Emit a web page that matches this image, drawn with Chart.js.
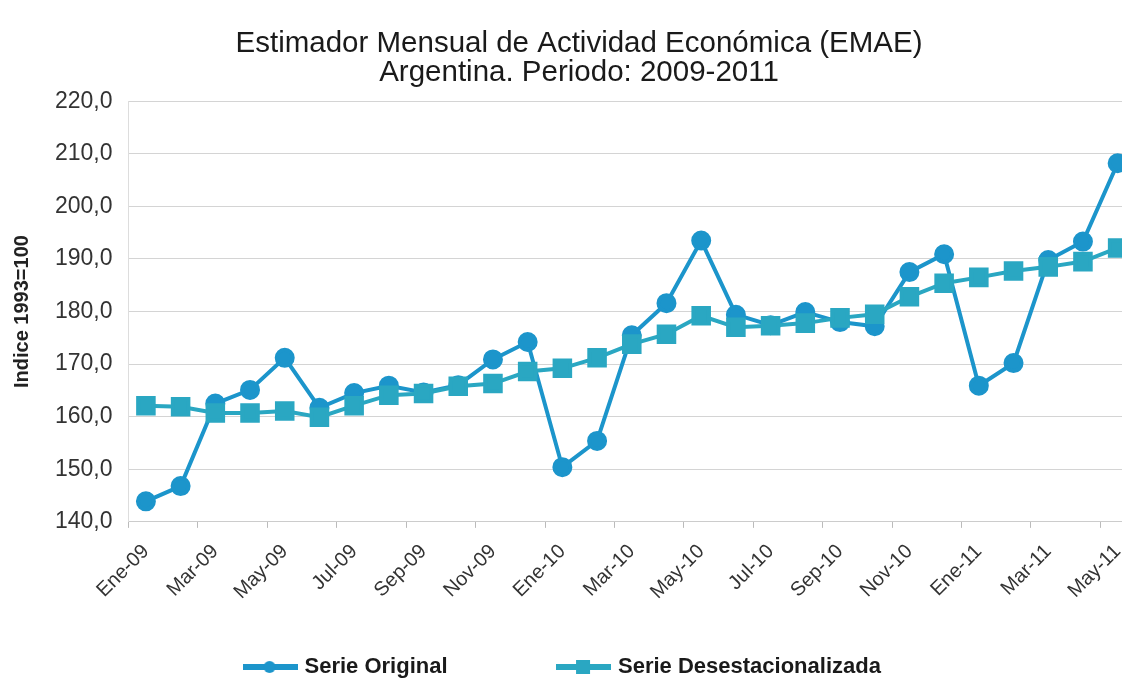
<!DOCTYPE html>
<html>
<head>
<meta charset="utf-8">
<script src="https://cdn.jsdelivr.net/npm/chart.js@4.4.1/dist/chart.umd.min.js"></script>
<style>
  body { margin: 0; background: #fff; overflow: hidden; }
  canvas { display: block; }
</style>
</head>
<body>
<canvas id="emaeChart" width="1150" height="681"></canvas>
<script>
const meses = ['Ene-09', 'Feb-09', 'Mar-09', 'Abr-09', 'May-09', 'Jun-09', 'Jul-09', 'Ago-09', 'Sep-09', 'Oct-09', 'Nov-09', 'Dic-09',
    'Ene-10', 'Feb-10', 'Mar-10', 'Abr-10', 'May-10', 'Jun-10', 'Jul-10', 'Ago-10', 'Sep-10', 'Oct-10', 'Nov-10', 'Dic-10',
    'Ene-11', 'Feb-11', 'Mar-11', 'Abr-11', 'May-11'];
const serieOriginal = [143.9, 146.8, 162.5, 165.1, 171.2, 161.7, 164.5, 165.9, 164.6, 166.0, 170.9, 174.2,
    150.4, 155.4, 175.5, 181.6, 193.5, 179.4, 177.4, 179.9, 178.0, 177.2, 187.5, 190.9,
    165.9, 170.2, 189.8, 193.3, 208.2];
const serieDesest = [162.1, 161.9, 160.7, 160.7, 161.1, 159.9, 162.1, 164.1, 164.4, 165.8, 166.3, 168.6,
    169.2, 171.2, 173.8, 175.7, 179.2, 177.0, 177.3, 177.8, 178.8, 179.5, 182.8, 185.4,
    186.5, 187.7, 188.5, 189.5, 192.1];
const yMin = 140;
const yMax = 220;
const yPaso = 10;

const colorOriginal = '#1c95cb';
const colorDesest = '#2aa7c2';

// little line + marker picture for the legend
function iconoLeyenda(color, forma) {
    const c = document.createElement('canvas');
    c.width = 55;
    c.height = 18;
    const ctx = c.getContext('2d');
    ctx.strokeStyle = color;
    ctx.fillStyle = color;
    ctx.lineWidth = 6;
    ctx.beginPath();
    ctx.moveTo(0, 9);
    ctx.lineTo(55, 9);
    ctx.stroke();
    if (forma === 'circle') {
        ctx.beginPath();
        ctx.arc(27, 9, 6, 0, Math.PI * 2);
        ctx.fill();
    } else {
        ctx.fillRect(20, 2, 14, 14);
    }
    return c;
}

const ctx = document.getElementById('emaeChart');
const emaeChart = new Chart(ctx, {
    type: 'line',
    data: {
        labels: meses,
        datasets: [{
            label: 'Serie Original',
            data: serieOriginal,
            borderColor: colorOriginal,
            backgroundColor: colorOriginal,
            borderWidth: 4,
            pointStyle: 'circle',
            pointRadius: 8,
            pointHoverRadius: 8,
            tension: 0,
            order: 2
        }, {
            label: 'Serie Desestacionalizada',
            data: serieDesest,
            borderColor: colorDesest,
            backgroundColor: colorDesest,
            borderWidth: 4,
            pointStyle: 'rect',
            pointRadius: 11,
            pointHoverRadius: 11,
            tension: 0,
            order: 1
        }]
    },
    options: {
        responsive: false,
        animation: false,
        layout: {
            padding: { left: 8, right: 0, top: 6, bottom: -7 }
        },
        plugins: {
            title: {
                display: true,
                text: ['Estimador Mensual de Actividad Económica (EMAE)', 'Argentina. Periodo: 2009-2011'],
                color: '#1a1a1a',
                font: { family: 'Liberation Sans, Arial, sans-serif', size: 29.5, weight: 'normal', lineHeight: 0.97 },
                padding: { top: 24, bottom: 14 }
            },
            legend: {
                position: 'bottom',
                labels: {
                    usePointStyle: true,
                    pointStyleWidth: 47,
                    padding: 0,
                    color: '#1a1a1a',
                    font: { family: 'Liberation Sans, Arial, sans-serif', size: 22, weight: 'bold' },
                    generateLabels: function (chart) {
                        return chart.data.datasets.map(function (ds, i) {
                            // trailing spaces keep the wide gap between the two items
                            const texto = i === 0 ? ds.label + '\u2003\u2003\u2003\u2003    ' : ds.label + '     ';
                            return {
                                text: texto,
                                datasetIndex: i,
                                pointStyle: iconoLeyenda(ds.borderColor, ds.pointStyle),
                                fontColor: '#1a1a1a',
                                hidden: false,
                                lineWidth: 0
                            };
                        });
                    }
                }
            },
            tooltip: { enabled: false }
        },
        scales: {
            x: {
                offset: true,
                afterFit: function (scale) {
                    scale.height += 40;
                },
                grid: {
                    display: true,
                    offset: true,
                    drawOnChartArea: false,
                    tickLength: 6,
                    color: function (c) {
                        return c.index % 2 === 0 ? '#bbb' : 'rgba(0,0,0,0)';
                    }
                },
                border: { color: '#ccc' },
                ticks: {
                    autoSkip: false,
                    minRotation: 45,
                    maxRotation: 45,
                    padding: 12,
                    color: '#333',
                    font: { family: 'Liberation Sans, Arial, sans-serif', size: 20 },
                    callback: function (value, index) {
                        return index % 2 === 0 ? meses[index] : '';
                    }
                }
            },
            y: {
                min: yMin,
                max: yMax,
                grid: { color: '#d4d4d4', drawTicks: false },
                border: { color: '#ddd' },
                ticks: {
                    stepSize: yPaso,
                    padding: 16,
                    color: '#333',
                    font: { family: 'Liberation Sans, Arial, sans-serif', size: 23 },
                    callback: function (value) {
                        return value.toFixed(1).replace('.', ',');
                    }
                },
                title: {
                    display: true,
                    text: 'Indice 1993=100',
                    color: '#222',
                    font: { family: 'Liberation Sans, Arial, sans-serif', size: 20, weight: 'bold' },
                    padding: { top: 2, bottom: 5 }
                }
            }
        }
    }
});
</script>
</body>
</html>
